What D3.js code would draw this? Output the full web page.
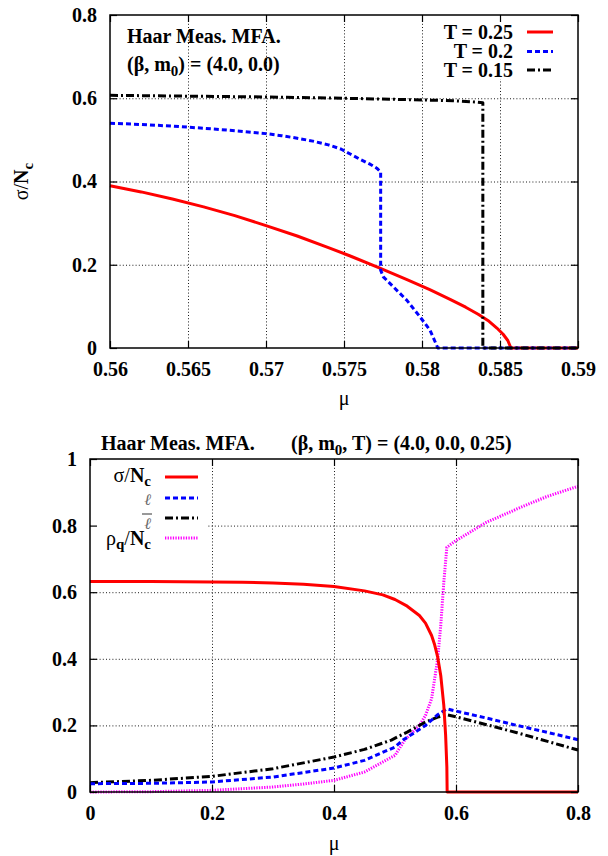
<!DOCTYPE html>
<html><head><meta charset="utf-8">
<script src="https://cdn.jsdelivr.net/npm/d3@7"></script>
<style>body{margin:0;background:#fff}</style>
</head><body>
<svg id="c" width="608" height="856" xmlns="http://www.w3.org/2000/svg"></svg>
<script>
// ---------- DATA: top panel ----------
const topXTicks = [0.56, 0.565, 0.57, 0.575, 0.58, 0.585, 0.59];
const topXTickLabels = ["0.56", "0.565", "0.57", "0.575", "0.58", "0.585", "0.59"];
const topYTicks = [0, 0.2, 0.4, 0.6, 0.8];
const topYTickLabels = ["0", "0.2", "0.4", "0.6", "0.8"];

const muT025 = [0.560, 0.562, 0.564, 0.566, 0.568, 0.570, 0.572, 0.574, 0.5754, 0.5773, 0.5790, 0.5805, 0.5818, 0.5828, 0.5836, 0.5843, 0.5848, 0.5852, 0.5855, 0.5857, 0.590];
const sigT025 = [0.390, 0.375, 0.358, 0.339, 0.318, 0.294, 0.269, 0.241, 0.221, 0.192, 0.165, 0.140, 0.117, 0.098, 0.081, 0.064, 0.048, 0.033, 0.018, 0.0, 0.0];

const muT020 = [0.560, 0.562, 0.564, 0.566, 0.568, 0.570, 0.571, 0.572, 0.573, 0.574, 0.5748, 0.5754, 0.5760, 0.5767, 0.5771, 0.57735, 0.57735, 0.57752, 0.57816, 0.57902, 0.57987, 0.58051, 0.58098, 0.5810, 0.590];
const sigT020 = [0.540, 0.537, 0.533, 0.528, 0.522, 0.515, 0.510, 0.504, 0.497, 0.488, 0.478, 0.466, 0.454, 0.441, 0.432, 0.423, 0.187, 0.171, 0.147, 0.115, 0.075, 0.043, 0.003, 0.0, 0.0];

const muT015 = [0.560, 0.565, 0.570, 0.575, 0.580, 0.582, 0.5834, 0.5839, 0.5839, 0.590];
const sigT015 = [0.607, 0.605, 0.603, 0.600, 0.596, 0.594, 0.591, 0.589, 0.0, 0.0];

const topSeriesNames = ["T = 0.25", "T = 0.2", "T = 0.15"];

// ---------- DATA: bottom panel ----------
const botXTicks = [0, 0.2, 0.4, 0.6, 0.8];
const botXTickLabels = ["0", "0.2", "0.4", "0.6", "0.8"];
const botYTicks = [0, 0.2, 0.4, 0.6, 0.8, 1.0];
const botYTickLabels = ["0", "0.2", "0.4", "0.6", "0.8", "1"];

const muSigma = [0, 0.1, 0.2, 0.25, 0.3, 0.35, 0.4, 0.45, 0.48, 0.50, 0.52, 0.54, 0.55, 0.56, 0.565, 0.57, 0.575, 0.58, 0.583, 0.585, 0.5855, 0.8];
const sigmaNc = [0.632, 0.632, 0.631, 0.630, 0.628, 0.624, 0.617, 0.604, 0.592, 0.578, 0.558, 0.530, 0.507, 0.470, 0.442, 0.405, 0.350, 0.260, 0.170, 0.075, 0.0, 0.0];

const muL = [0, 0.1, 0.2, 0.3, 0.4, 0.45, 0.5, 0.513, 0.53, 0.55, 0.57, 0.585, 0.6, 0.65, 0.7, 0.75, 0.8];
const ell = [0.025, 0.026, 0.030, 0.045, 0.072, 0.095, 0.135, 0.156, 0.176, 0.200, 0.232, 0.250, 0.243, 0.222, 0.200, 0.179, 0.157];

const muLbar = [0, 0.1, 0.2, 0.3, 0.4, 0.45, 0.494, 0.52, 0.55, 0.57, 0.585, 0.6, 0.65, 0.7, 0.75, 0.8];
const ellBar = [0.028, 0.035, 0.047, 0.070, 0.105, 0.128, 0.156, 0.180, 0.210, 0.225, 0.232, 0.226, 0.202, 0.178, 0.152, 0.126];

const muRho = [0, 0.1, 0.2, 0.3, 0.35, 0.4, 0.45, 0.5, 0.516, 0.54, 0.55, 0.56, 0.57, 0.575, 0.58, 0.585, 0.6, 0.65, 0.7, 0.75, 0.8];
const rhoQ = [0.0, 0.001, 0.005, 0.015, 0.024, 0.035, 0.060, 0.110, 0.156, 0.200, 0.230, 0.280, 0.400, 0.500, 0.630, 0.735, 0.755, 0.810, 0.850, 0.888, 0.918];

// ---------- DRAWING ----------
const FONT = "'Liberation Serif', 'Times New Roman', serif";
const svg = d3.select("#c").attr("font-family", FONT);
const zip = (a, b) => a.map((v, i) => [v, b[i]]);

const styles = {
  red:     {stroke: "#ff0000", dash: null},
  blue:    {stroke: "#0000ff", dash: "5,3"},
  black:   {stroke: "#000000", dash: "8,3,2,3"},
  magenta: {stroke: "#ff00ff", dash: "1.3,1.3"}
};

function drawFrame(g, x, y, xt, yt, L, R, T, B) {
  g.append("g").attr("class", "grid").attr("transform", `translate(0,${B})`)
    .call(d3.axisBottom(x).tickValues(xt.filter(v => x(v) > L + 1 && x(v) < R - 1)).tickSize(-(B - T)).tickFormat(""))
    .call(s => s.select(".domain").remove());
  g.append("g").attr("class", "grid").attr("transform", `translate(${L},0)`)
    .call(d3.axisLeft(y).tickValues(yt.filter(v => y(v) < B - 1 && y(v) > T + 1)).tickSize(-(R - L)).tickFormat(""))
    .call(s => s.select(".domain").remove());
  g.selectAll(".grid line").attr("stroke", "#000").attr("stroke-width", 0.9).attr("stroke-dasharray", "1,2.2");
}

function drawAxes(g, x, y, xt, xl, yt, yl, L, R, T, B) {
  const styleAxis = s => {
    s.attr("font-family", FONT).attr("font-size", 20).attr("font-weight", "bold");
    s.select(".domain").remove();
    s.selectAll("line").attr("stroke", "#000").attr("stroke-width", 1.2);
    s.selectAll("text").attr("fill", "#000");
  };
  g.append("g").attr("transform", `translate(0,${B})`)
    .call(d3.axisBottom(x).tickValues(xt).tickFormat((d, i) => xl[i]).tickSizeInner(-7).tickSizeOuter(0).tickPadding(14)).call(styleAxis);
  g.append("g").attr("transform", `translate(0,${T})`)
    .call(d3.axisTop(x).tickValues(xt).tickFormat("").tickSizeInner(-7).tickSizeOuter(0)).call(styleAxis);
  g.append("g").attr("transform", `translate(${L},0)`)
    .call(d3.axisLeft(y).tickValues(yt).tickFormat((d, i) => yl[i]).tickSizeInner(-7).tickSizeOuter(0).tickPadding(13)).call(styleAxis);
  g.append("g").attr("transform", `translate(${R},0)`)
    .call(d3.axisRight(y).tickValues(yt).tickFormat("").tickSizeInner(-7).tickSizeOuter(0)).call(styleAxis);
  g.append("rect").attr("x", L).attr("y", T).attr("width", R - L).attr("height", B - T)
    .attr("fill", "none").attr("stroke", "#000").attr("stroke-width", 1.5);
}

function drawSeries(g, x, y, pts, st) {
  const line = d3.line().x(d => x(d[0])).y(d => y(d[1]));
  g.append("path").datum(pts).attr("d", line).attr("fill", "none")
    .attr("stroke", st.stroke).attr("stroke-width", 3)
    .attr("stroke-dasharray", st.dash).attr("stroke-linejoin", "round");
}

function legendLine(g, x1, x2, yy, st) {
  g.append("line").attr("x1", x1).attr("x2", x2).attr("y1", yy).attr("y2", yy)
    .attr("stroke", st.stroke).attr("stroke-width", 3).attr("stroke-dasharray", st.dash);
}

// ===== TOP PANEL =====
{
  const L = 110, R = 578, T = 15, B = 348;
  const x = d3.scaleLinear().domain([0.56, 0.59]).range([L, R]);
  const y = d3.scaleLinear().domain([0, 0.8]).range([B, T]);
  const g = svg.append("g");
  drawFrame(g, x, y, topXTicks, topYTicks, L, R, T, B);
  g.append("rect").attr("x", 432).attr("y", T + 1).attr("width", R - 433).attr("height", 63).attr("fill", "#fff");

  drawSeries(g, x, y, zip(muT025, sigT025), styles.red);
  drawSeries(g, x, y, zip(muT020, sigT020), styles.blue);
  drawSeries(g, x, y, zip(muT015, sigT015), styles.black);

  drawAxes(g, x, y, topXTicks, topXTickLabels, topYTicks, topYTickLabels, L, R, T, B);

  g.append("text").attr("x", 127).attr("y", 43).attr("font-size", 20).attr("font-weight", "bold").text("Haar Meas. MFA.");
  const t2 = g.append("text").attr("x", 127).attr("y", 71).attr("font-size", 20).attr("font-weight", "bold");
  t2.append("tspan").text("(β, m");
  t2.append("tspan").attr("font-size", 15).attr("dy", 5).text("0");
  t2.append("tspan").attr("dy", -5).text(") = (4.0, 0.0)");

  const sts = [styles.red, styles.blue, styles.black];
  const rows = [32, 51.5, 70];
  topSeriesNames.forEach((n, i) => {
    g.append("text").attr("x", 513).attr("y", rows[i] + 6.5).attr("text-anchor", "end")
      .attr("font-size", 20).attr("font-weight", "bold").text(n);
    legendLine(g, 527, 553, rows[i], sts[i]);
  });

  g.append("text").attr("x", (L + R) / 2).attr("y", 405).attr("text-anchor", "middle").attr("font-size", 20).text("μ");
  const yl = g.append("text").attr("transform", `translate(28,${(T + B) / 2}) rotate(-90)`).attr("text-anchor", "middle").attr("font-size", 20);
  yl.append("tspan").text("σ/");
  yl.append("tspan").attr("font-weight", "bold").text("N");
  yl.append("tspan").attr("font-weight", "bold").attr("font-size", 15).attr("dy", 5).text("c");
}

// ===== BOTTOM PANEL =====
{
  const L = 90, R = 578, T = 459, B = 792;
  const x = d3.scaleLinear().domain([0, 0.8]).range([L, R]);
  const y = d3.scaleLinear().domain([0, 1]).range([B, T]);
  const g = svg.append("g");
  drawFrame(g, x, y, botXTicks, botYTicks, L, R, T, B);
  g.append("rect").attr("x", L + 1).attr("y", T + 1).attr("width", 116).attr("height", 88).attr("fill", "#fff");

  drawSeries(g, x, y, zip(muRho, rhoQ), styles.magenta);
  drawSeries(g, x, y, zip(muLbar, ellBar), styles.black);
  drawSeries(g, x, y, zip(muL, ell), styles.blue);
  drawSeries(g, x, y, zip(muSigma, sigmaNc), styles.red);

  drawAxes(g, x, y, botXTicks, botXTickLabels, botYTicks, botYTickLabels, L, R, T, B);

  g.append("text").attr("x", 101).attr("y", 450).attr("font-size", 20).attr("font-weight", "bold").text("Haar Meas. MFA.");
  const tt = g.append("text").attr("x", 291).attr("y", 450).attr("font-size", 20).attr("font-weight", "bold");
  tt.append("tspan").text("(β, m");
  tt.append("tspan").attr("font-size", 15).attr("dy", 5).text("0");
  tt.append("tspan").attr("dy", -5).text(", T) = (4.0, 0.0, 0.25)");

  const lx = 151, lx1 = 165, lx2 = 198;
  const a = g.append("text").attr("x", lx).attr("y", 482).attr("text-anchor", "end").attr("font-size", 20);
  a.append("tspan").text("σ/");
  a.append("tspan").attr("font-weight", "bold").text("N");
  a.append("tspan").attr("font-weight", "bold").attr("font-size", 15).attr("dy", 4).text("c");
  legendLine(g, lx1, lx2, 477, styles.red);
  g.append("text").attr("x", lx).attr("y", 505).attr("text-anchor", "end").attr("font-size", 16)
    .attr("font-style", "italic").attr("fill", "#666").text("ℓ");
  legendLine(g, lx1, lx2, 498, styles.blue);
  g.append("text").attr("x", lx).attr("y", 529).attr("text-anchor", "end").attr("font-size", 16)
    .attr("font-style", "italic").attr("fill", "#666").text("ℓ");
  g.append("line").attr("x1", 142).attr("x2", 152).attr("y1", 514).attr("y2", 514).attr("stroke", "#555").attr("stroke-width", 1.2);
  legendLine(g, lx1, lx2, 518, styles.black);
  const r = g.append("text").attr("x", lx).attr("y", 545).attr("text-anchor", "end").attr("font-size", 20);
  r.append("tspan").text("ρ");
  r.append("tspan").attr("font-weight", "bold").attr("font-size", 15).attr("dy", 4).text("q");
  r.append("tspan").attr("dy", -4).text("/");
  r.append("tspan").attr("font-weight", "bold").text("N");
  r.append("tspan").attr("font-weight", "bold").attr("font-size", 15).attr("dy", 4).text("c");
  legendLine(g, lx1, lx2, 538, styles.magenta);

  g.append("text").attr("x", (L + R) / 2).attr("y", 850).attr("text-anchor", "middle").attr("font-size", 20).text("μ");
}
</script>
</body></html>
